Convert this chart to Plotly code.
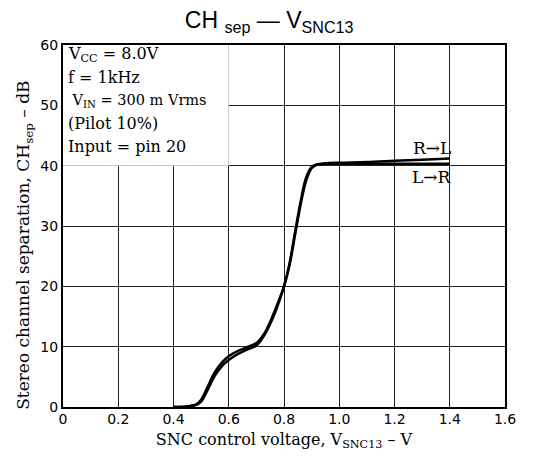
import plotly.graph_objects as go

# SNC control voltage (V) and channel separation (dB)
v_rl = [0.40, 0.45, 0.48, 0.50, 0.52, 0.55, 0.58, 0.60, 0.63, 0.66, 0.70, 0.73, 0.76, 0.78,
        0.80, 0.82, 0.84, 0.86, 0.88, 0.90, 0.92, 0.95, 1.00, 1.10, 1.20, 1.30, 1.40]
sep_rl = [0.0, 0.1, 0.4, 1.2, 3.0, 5.8, 7.6, 8.4, 9.2, 9.8, 10.6, 12.3, 15.2, 17.5,
          20.0, 23.5, 28.5, 33.5, 37.5, 39.6, 40.2, 40.4, 40.5, 40.6, 40.8, 41.0, 41.2]

v_lr = [0.40, 0.45, 0.48, 0.50, 0.52, 0.55, 0.58, 0.60, 0.63, 0.66, 0.70, 0.73, 0.76, 0.78,
        0.80, 0.82, 0.84, 0.86, 0.88, 0.90, 0.92, 0.95, 1.00, 1.10, 1.20, 1.30, 1.40]
sep_lr = [0.0, 0.1, 0.3, 0.9, 2.5, 5.2, 7.0, 7.8, 8.7, 9.4, 10.2, 12.0, 14.8, 17.2,
          20.0, 23.8, 29.0, 34.0, 38.0, 39.8, 40.2, 40.3, 40.3, 40.3, 40.3, 40.3, 40.3]

x_ticks = [0, 0.2, 0.4, 0.6, 0.8, 1.0, 1.2, 1.4, 1.6]
x_tick_text = ["0", "0.2", "0.4", "0.6", "0.8", "1.0", "1.2", "1.4", "1.6"]
y_ticks = [0, 10, 20, 30, 40, 50, 60]

conditions = [
    "V<sub>CC</sub> = 8.0V",
    "f = 1kHz",
    " V<sub>IN</sub> = 300 m Vrms",
    "(Pilot 10%)",
    "Input = pin 20",
]

fig = go.Figure()

fig.add_trace(go.Scatter(x=v_rl, y=sep_rl, mode="lines", name="R→L",
                         line=dict(color="black", width=2.5, shape="spline")))
fig.add_trace(go.Scatter(x=v_lr, y=sep_lr, mode="lines", name="L→R",
                         line=dict(color="black", width=2.5, shape="spline")))

# white box behind the conditions text hides the grid there
fig.add_shape(type="rect", x0=0, x1=0.6, y0=40, y1=60, xref="x", yref="y",
              fillcolor="white", line=dict(width=0), layer="between")

serif = "DejaVu Serif"
for i, txt in enumerate(conditions):
    fig.add_annotation(x=0.012, y=58.5 - i * 3.85, xref="x", yref="y", text=txt,
                       showarrow=False, xanchor="left", yanchor="middle",
                       font=dict(family=serif, size=16 if i != 2 else 14.5, color="black"))

fig.add_annotation(x=1.335, y=43.0, text="R→L", showarrow=False,
                   font=dict(family=serif, size=17, color="black"))
fig.add_annotation(x=1.335, y=38.2, text="L→R", showarrow=False,
                   font=dict(family=serif, size=17, color="black"))

# y axis title as annotation so it can sit a little below the plot's middle
fig.add_annotation(x=-0.086, y=0.448, xref="paper", yref="paper", textangle=-90,
                   text="Stereo channel separation, CH<sub>sep</sub> – dB",
                   showarrow=False, xanchor="center", yanchor="middle",
                   font=dict(family=serif, size=17, color="black"))

fig.update_layout(
    width=533, height=459,
    margin=dict(l=55, r=36, t=37, b=60),
    paper_bgcolor="white", plot_bgcolor="white",
    showlegend=False,
    title=dict(text="CH <sub>sep</sub> — V<sub>SNC13</sub>", x=0.49, xanchor="center",
               y=0.973, yanchor="middle",
               font=dict(family="Liberation Sans", size=23, color="black")),
    xaxis=dict(range=[0, 1.6], tickvals=x_ticks, ticktext=x_tick_text,
               showgrid=True, gridcolor="#222", gridwidth=1,
               showline=True, linecolor="black", linewidth=2, mirror=True,
               ticks="", zeroline=False, ticklabelstandoff=-2,
               tickfont=dict(family="DejaVu Sans", size=14, color="black"),
               title=dict(text="SNC control voltage, V<sub>SNC13</sub> – V", standoff=8,
                          font=dict(family=serif, size=16, color="black"))),
    yaxis=dict(range=[0, 60], tickvals=y_ticks,
               showgrid=True, gridcolor="#222", gridwidth=1,
               showline=True, linecolor="black", linewidth=2, mirror=True,
               ticks="", zeroline=False,
               tickfont=dict(family="DejaVu Sans", size=14, color="black")),
)

fig.write_html("out.html")
